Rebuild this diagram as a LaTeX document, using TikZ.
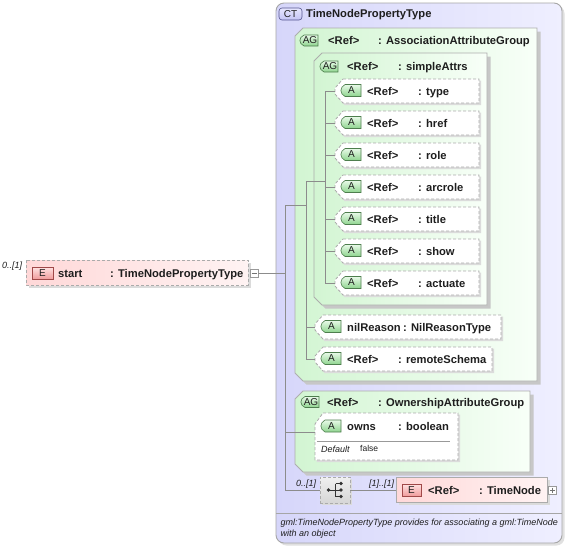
\documentclass[tikz,border=0pt]{standalone}
\usepackage{fontspec}
\setmainfont{Liberation Sans}
\definecolor{ctL}{HTML}{D6D6FA}
\definecolor{ctR}{HTML}{EFEFFF}
\definecolor{agL}{HTML}{D2F5D2}
\definecolor{agR}{HTML}{F8FFF8}
\definecolor{elL}{HTML}{FFD8D8}
\definecolor{elR}{HTML}{FFF3F3}
\definecolor{agbT}{HTML}{E8FAE8}
\definecolor{agbB}{HTML}{8ED48E}
\definecolor{agD}{HTML}{4E7E4E}
\definecolor{ebT}{HTML}{FFE2E2}
\definecolor{ebB}{HTML}{F09C9C}
\definecolor{ebD}{HTML}{A04848}
\definecolor{ctbT}{HTML}{E6E6FF}
\definecolor{ctbB}{HTML}{C4C4F4}
\definecolor{ctbD}{HTML}{55558F}
\definecolor{txt}{HTML}{1E1E1E}
\tikzset{
  lbl/.style={anchor=base west, inner sep=0pt, font=\bfseries\fontsize{11.2}{13}\selectfont, text=txt},
  bdg/.style={inner sep=0pt, font=\fontsize{10}{11}\selectfont, text=txt},
  note/.style={anchor=base west, inner sep=0pt, font=\itshape\fontsize{9}{11}\selectfont, text=txt},
  conn/.style={draw=black!45, line width=0.7pt},
  shd/.style={fill=black!14},
  gshd/.style={fill=black!22},
  grp/.style={draw=black!32, line width=0.9pt, left color=agL, right color=agR},
  optbox/.style={draw=black!33, line width=0.8pt, dash pattern=on 3pt off 2pt},
  reqbox/.style={draw=black!33, line width=0.8pt},
  elfill/.style={left color=elL, right color=elR},
  pmbox/.style={draw=black!40, fill=white, line width=0.6pt, minimum size=8pt, inner sep=0pt},
  ebadge/.style={draw=ebD, top color=ebT, bottom color=ebB, line width=0.6pt},
}
% group box with chamfered left corners
\newcommand\agroup[4]{%
  \path[gshd] (#1+11.5,#2+3.5) -- (#3+3.5,#2+3.5) -- (#3+3.5,#4+3.5) -- (#1+11.5,#4+3.5) -- (#1+3.5,#4-4.5) -- (#1+3.5,#2+11.5) -- cycle;
  \path[grp] (#1+8,#2) -- (#3,#2) -- (#3,#4) -- (#1+8,#4) -- (#1,#4-8) -- (#1,#2+8) -- cycle;
}
% AG badge: x, cy, id
\newcommand\agbadge[3]{%
  \path[draw=agD, top color=agbT, bottom color=agbB, line width=0.6pt]
    (#1+5,#2-5.5) -- (#1+19,#2-5.5) -- (#1+19,#2+5.5) -- (#1+5,#2+5.5)
    .. controls (#1-0.5,#2+3) and (#1-0.5,#2-3) .. (#1+5,#2-5.5) -- cycle;
  \node[bdg] (#3) at (#1+11,#2) {AG};
}
% A badge: x, cy, id
\newcommand\abadge[3]{%
  \path[draw=agD, top color=agbT, bottom color=agbB, line width=0.6pt]
    (#1+5,#2-6) -- (#1+21,#2-6) -- (#1+21,#2+6) -- (#1+5,#2+6)
    .. controls (#1-0.5,#2+3) and (#1-0.5,#2-3) .. (#1+5,#2-6) -- cycle;
  \node[bdg] (#3) at (#1+11.5,#2) {A};
}
% attribute row: id, xl, cy, xr, name, typex, type
\newcommand\attrrow[7]{%
  \path[shd] (#2+9.5,#3-10.5) -- (#4+2,#3-10.5) -- (#4+2,#3+14) -- (#2+9.5,#3+14) -- (#2+1.5,#3+5) -- (#2+1.5,#3-1) -- cycle;
  \path[optbox, fill=white] (#2+8,#3-12) -- (#4,#3-12) -- (#4,#3+12) -- (#2+8,#3+12) -- (#2,#3+3) -- (#2,#3-3) -- cycle;
  \abadge{#2+5}{#3-0.5}{#1b}
  \node[lbl] (#1n) at (#2+32,#3+4) {#5};
  \node[lbl] (#1t) at (#6,#3+4) {#7};
  \coordinate (#1) at (#2,#3);
}
\begin{document}
\begin{tikzpicture}[x=1pt,y=-1pt]
\useasboundingbox (0,0) rectangle (570,547);
\fill[white] (0,0) rectangle (570,547);

% ---------- complex type box ----------
\fill[black!12, rounded corners=8pt] (278.5,5.5) rectangle (564.5,545.5);
\path[draw=black!35, line width=0.9pt, left color=ctL, right color=ctR, rounded corners=8pt] (276,3) rectangle (562,543);
\path[draw=ctbD, top color=ctbT, bottom color=ctbB, line width=0.6pt, rounded corners=3pt] (279,8) rectangle (302,20);
\node[bdg] (ctb) at (290.5,14) {CT};
\node[lbl] (ctname) at (306,17.5) {TimeNodePropertyType};
\draw[black!35, line width=0.7pt] (276,513) -- (562,513);
\node[note] (desc1) at (280.5,525.5) {gml:TimeNodePropertyType provides for associating a gml:TimeNode};
\node[note] (desc2) at (280.5,536) {with an object};

% ---------- AssociationAttributeGroup ----------
\agroup{295}{28}{537}{381}
\agbadge{299}{40.5}{ag1b}
\node[lbl] (ag1n) at (328,44.5) {<Ref>};
\node[lbl] (ag1t) at (378,44.5) {: AssociationAttributeGroup};

% ---------- simpleAttrs ----------
\agroup{314}{53}{487}{305}
\agbadge{319}{66.5}{ag2b}
\node[lbl] (ag2n) at (347,70.5) {<Ref>};
\node[lbl] (ag2t) at (398,70.5) {: simpleAttrs};

\attrrow{type}{335}{91}{479}{<Ref>}{418}{: type}
\attrrow{href}{335}{123}{479}{<Ref>}{418}{: href}
\attrrow{role}{335}{155}{479}{<Ref>}{418}{: role}
\attrrow{arcrole}{335}{187}{479}{<Ref>}{418}{: arcrole}
\attrrow{title}{335}{219}{479}{<Ref>}{418}{: title}
\attrrow{show}{335}{251}{479}{<Ref>}{418}{: show}
\attrrow{actuate}{335}{283}{479}{<Ref>}{418}{: actuate}

\attrrow{nil}{315}{327}{501}{nilReason}{403}{: NilReasonType}
\attrrow{rs}{315}{359}{492}{<Ref>}{398}{: remoteSchema}

% ---------- OwnershipAttributeGroup ----------
\agroup{295}{391}{530}{472}
\agbadge{300}{402}{ag3b}
\node[lbl] (ag3n) at (327,406) {<Ref>};
\node[lbl] (ag3t) at (378,406) {: OwnershipAttributeGroup};

\path[shd] (324.5,414.5) -- (460,414.5) -- (460,462) -- (316.5,462) -- (316.5,425.5) -- cycle;
\path[optbox, fill=white] (323,413) -- (458,413) -- (458,460) -- (315,460) -- (315,424) -- cycle;
\abadge{320}{426}{ownsb}
\node[lbl] (ownsn) at (347,430.5) {owns};
\node[lbl] (ownst) at (398,430.5) {: boolean};
\draw[black!40, line width=0.6pt] (317,441) -- (450,441);
\node[note] (dflt) at (321,452) {Default};
\node[anchor=base west, inner sep=0pt, font=\fontsize{8.5}{10}\selectfont, text=txt] (dfltv) at (360,451.5) {false};
\coordinate (owns) at (315,432);

% ---------- sequence compositor ----------
\fill[black!14] (322,479) rectangle (352,505);
\node[optbox, top color=black!6, bottom color=black!16, minimum width=30pt, minimum height=26pt, inner sep=0pt] (seq) at (335,490) {};
\fill[black!80] (328.5,490) circle (1.9pt);
\draw[black!80, line width=0.8pt] (328.5,490) -- (335.5,490) (335.5,483.5) -- (335.5,496.5)
   (335.5,483.5) -- (341,483.5) (335.5,496.5) -- (341,496.5) (335.5,490) -- (341,490);
\fill[black!80] (341,483.5) circle (1.9pt) (341,490) circle (1.9pt) (341,496.5) circle (1.9pt);
\node[note] (seqocc) at (296,486.5) {0..[1]};
\node[note] (tnocc) at (369,486.5) {[1]..[1]};

% ---------- TimeNode element ----------
\fill[black!14] (398.5,479.5) rectangle (549.5,504.5);
\path[reqbox, elfill] (396,477) rectangle (547,502);
\node[ebadge, minimum width=19pt, minimum height=12pt, inner sep=0pt, font=\fontsize{10}{11}\selectfont, text=txt] (tnb) at (411.5,490) {E};
\node[lbl] (tnn) at (428,494) {<Ref>};
\node[lbl] (tnt) at (479,494) {: TimeNode};
\coordinate (tn) at (396,490);
\node[pmbox] (tnpm) at (552.5,490) {};
\draw[black!55, line width=0.6pt] ([xshift=1.8pt]tnpm.west) -- ([xshift=-1.8pt]tnpm.east)
  ([yshift=-1.8pt]tnpm.north) -- ([yshift=1.8pt]tnpm.south);

% ---------- start element ----------
\fill[black!14] (28.5,262.5) rectangle (250.5,287.5);
\path[optbox, elfill] (26,260) rectangle (248,285);
\node[ebadge, minimum width=21pt, minimum height=12pt, inner sep=0pt, font=\fontsize{10}{11}\selectfont, text=txt] (startb) at (42.5,273) {E};
\node[lbl] (startn) at (58,277) {start};
\node[lbl] (startt) at (110,277) {: TimeNodePropertyType};
\node[note] (startocc) at (2,268.5) {0..[1]};
\node[pmbox] (startpm) at (254,273) {};
\draw[black!55, line width=0.6pt] ([xshift=1.8pt]startpm.west) -- ([xshift=-1.8pt]startpm.east);

% ---------- connectors ----------
\coordinate (ctbus) at (285,273);
\coordinate (ag1bus) at (306,205);
\coordinate (sabus) at (325,181);
\draw[conn] (startpm.east) -- (ctbus);
\draw[conn] (ctbus) |- (ag1bus);
\draw[conn] (ctbus) |- (owns);
\draw[conn] (ctbus) |- (seq.west);
\draw[conn] (ag1bus) |- (sabus);
\draw[conn] (ag1bus) |- (nil);
\draw[conn] (ag1bus) |- (rs);
\foreach \r in {type,href,role,arcrole,title,show,actuate}
  \draw[conn] (sabus) |- (\r);
\draw[conn] (seq.east) -- (tn);
\end{tikzpicture}
\end{document}
